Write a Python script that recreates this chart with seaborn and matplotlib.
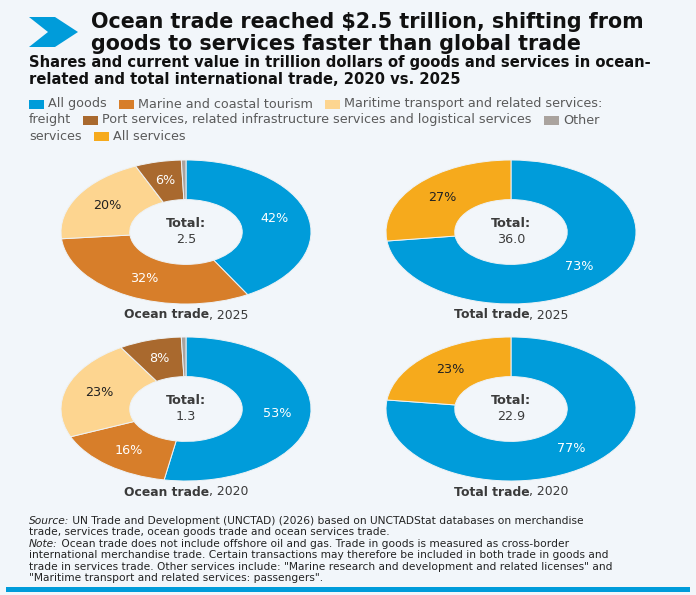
import matplotlib
matplotlib.use("Agg")
import matplotlib.pyplot as plt
import seaborn as sns
from matplotlib.patches import Rectangle, Polygon

# ---------------- data ----------------
categories = ["All goods", "Marine and coastal tourism",
              "Maritime transport and related services: freight",
              "Port services, related infrastructure services and logistical services",
              "Other services", "All services"]
ocean_2025 = [41.8, 31.7, 19.9, 6.0, 0.6]   # shares (%)
ocean_2020 = [52.8, 15.9, 22.6, 8.1, 0.6]
total_2025 = [73.0, 27.0]
total_2020 = [77.0, 23.0]
ocean_total_2025 = 2.5   # trillion dollars
ocean_total_2020 = 1.3
world_total_2025 = 36.0
world_total_2020 = 22.9

title_lines = ["Ocean trade reached $2.5 trillion, shifting from",
               "goods to services faster than global trade"]
subtitle_lines = ["Shares and current value in trillion dollars of goods and services in ocean-",
                  "related and total international trade, 2020 vs. 2025"]

# ---------------- style ----------------
BG = "#F2F6FA"
BLUE = "#009CDA"
palette = sns.color_palette(["#009CDA", "#D77E2A", "#FDD590", "#A9692E", "#AAA39E", "#F6AA1C"])
ocean_colors = [palette[0], palette[1], palette[2], palette[3], palette[4]]
total_colors = [palette[0], palette[5]]
ocean_txt = ["white", "white", "#222222", "white", "white"]
total_txt = ["white", "#222222"]

sns.set_theme(style="white")
plt.rcParams["font.family"] = ["DejaVu Sans"]

W, H = 696, 595
fig = plt.figure(figsize=(W / 100, H / 100), dpi=100, facecolor=BG)
ov = fig.add_axes([0, 0, 1, 1])
ov.set_xlim(0, W)
ov.set_ylim(H, 0)
ov.axis("off")
ov.patch.set_alpha(0)
R = fig.canvas.get_renderer()


def width_of(s, size, weight="normal", style="normal"):
    t = ov.text(0, 0, s, fontsize=size, fontweight=weight, fontstyle=style)
    w = t.get_window_extent(R).width
    t.remove()
    return w


def fit(s, target, weight="normal", style="normal"):
    return 10 * target / width_of(s, 10, weight, style)


def draw_parts(x, y, parts, size, color, ha="left"):
    total = sum(width_of(s, size, wt, st) for s, wt, st in parts)
    if ha == "center":
        x = x - total / 2
    for s, wt, st in parts:
        ov.text(x, y, s, fontsize=size, fontweight=wt, fontstyle=st, color=color,
                ha="left", va="center")
        x += width_of(s, size, wt, st)
    return x


# ---------------- header ----------------
ov.add_patch(Polygon([(29, 17), (55, 17), (78, 32), (55, 47), (29, 47), (48, 32)],
                     closed=True, color=BLUE, lw=0))
ts = fit(title_lines[0], 553, "bold")
for i, line in enumerate(title_lines):
    ov.text(91, 22 + i * 22, line, fontsize=ts, fontweight="bold", color="#111111",
            ha="left", va="center")
ss = fit(subtitle_lines[0], 622, "bold")
for i, line in enumerate(subtitle_lines):
    ov.text(29, 63 + i * 16, line, fontsize=ss, fontweight="bold", color="#111111",
            ha="left", va="center")

# ---------------- legend (flowing) ----------------
ls = fit(categories[3], 429)
LCOL = "#5A5A5A"


def sw(x, y, c):
    ov.add_patch(Rectangle((x, y - 4.5), 15, 9, color=c, lw=0))
    return x + 19


def lt(x, y, s):
    ov.text(x, y, s, fontsize=ls, color=LCOL, ha="left", va="center")
    return x + width_of(s, ls) + 12


y1, y2, y3 = 104, 120, 136
x = sw(29, y1, palette[0]); x = lt(x, y1, categories[0])
x = sw(x, y1, palette[1]); x = lt(x, y1, categories[1])
x = sw(x, y1, palette[2]); x = lt(x, y1, "Maritime transport and related services:")
x = lt(29, y2, "freight")
x = sw(x, y2, palette[3]); x = lt(x, y2, categories[3])
x = sw(x, y2, palette[4]); x = lt(x, y2, "Other")
x = lt(29, y3, "services")
x = sw(x, y3, palette[5]); x = lt(x, y3, categories[5])

# ---------------- donuts ----------------
pct_size = fit("42%", 28)
tot_size = fit("Total:", 40, "bold")
cap_size = fit("Ocean trade, 2025", 129, "bold")


def donut(box, values, colors, txtcols, total, cap_bold, cap_reg):
    x0, y0, x1, y1 = box
    ax = fig.add_axes([x0 / W, 1 - y1 / H, (x1 - x0) / W, (y1 - y0) / H])
    ax.patch.set_alpha(0)
    wedges, _, autotexts = ax.pie(
        values, colors=colors, startangle=90, counterclock=False,
        autopct=lambda p: f"{p:.0f}%" if p > 3 else "", pctdistance=0.73,
        wedgeprops=dict(width=0.55, edgecolor="#EEF2F5", linewidth=0.7),
        textprops=dict(fontsize=pct_size))
    for t, c in zip(autotexts, txtcols):
        t.set_color(c)
    ax.set_aspect("auto")
    ax.set_xlim(-1, 1)
    ax.set_ylim(-1, 1)
    ax.axis("off")
    ax.text(0, 0.12, "Total:", ha="center", va="center", fontsize=tot_size,
            fontweight="bold", color="#3C3C3C")
    ax.text(0, -0.1, f"{total:.1f}", ha="center", va="center", fontsize=tot_size,
            color="#3C3C3C")
    cx = (x0 + x1) / 2
    draw_parts(cx, y1 + 11, [(cap_bold, "bold", "normal"), (cap_reg, "normal", "normal")],
               cap_size, "#3A3A3A", ha="center")


donut((61, 160, 311, 304), ocean_2025, ocean_colors, ocean_txt, ocean_total_2025,
      "Ocean trade", ", 2025")
donut((386, 160, 636, 304), total_2025, total_colors, total_txt, world_total_2025,
      "Total trade", ", 2025")
donut((61, 337, 311, 481), ocean_2020, ocean_colors, ocean_txt, ocean_total_2020,
      "Ocean trade", ", 2020")
donut((386, 337, 636, 481), total_2020, total_colors, total_txt, world_total_2020,
      "Total trade", ", 2020")

# ---------------- footnote ----------------
foot = [
    [("Source:", "normal", "italic"),
     (" UN Trade and Development (UNCTAD) (2026) based on UNCTADStat databases on merchandise", "normal", "normal")],
    [("trade, services trade, ocean goods trade and ocean services trade.", "normal", "normal")],
    [("Note:", "normal", "italic"),
     (" Ocean trade does not include offshore oil and gas. Trade in goods is measured as cross-border", "normal", "normal")],
    [("international merchandise trade. Certain transactions may therefore be included in both trade in goods and", "normal", "normal")],
    [("trade in services trade. Other services include: \"Marine research and development and related licenses\" and", "normal", "normal")],
    [("\"Maritime transport and related services: passengers\".", "normal", "normal")],
]
fs = fit(foot[4][0][0], 633) * 0.92
for i, parts in enumerate(foot):
    draw_parts(29, 521 + i * 11.4, parts, fs, "#222222")

ov.add_patch(Rectangle((6, 587), 684, 5, color=BLUE, lw=0))

fig.savefig("out.png", dpi=100, facecolor=BG)
